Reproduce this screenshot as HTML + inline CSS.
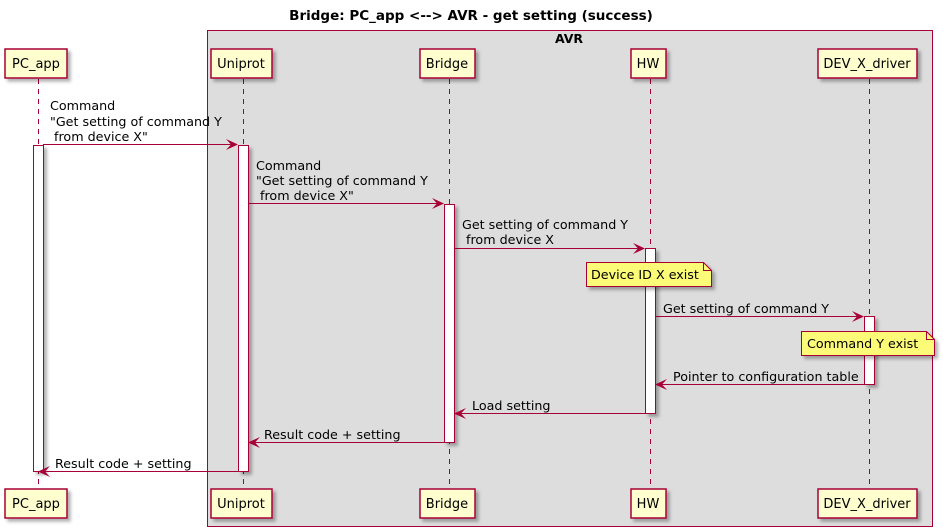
<!DOCTYPE html>
<html><head><meta charset="utf-8"><style>
html,body{margin:0;padding:0;background:#fff;}
svg{display:block;font-family:"DejaVu Sans","Liberation Sans",sans-serif;}
</style></head><body>
<svg width="943" height="528" viewBox="0 0 943 528" xmlns="http://www.w3.org/2000/svg">
<defs>
<filter id="sh" x="-20%" y="-20%" width="150%" height="150%"><feDropShadow dx="3" dy="3" stdDeviation="1.5" flood-color="#000" flood-opacity="0.3"/></filter>
</defs>
<text x="471" y="20" text-anchor="middle" font-size="13.5" font-weight="bold">Bridge: PC_app &lt;--&gt; AVR - get setting (success)</text>
<rect x="207.5" y="30.5" width="725" height="496" fill="#DDDDDD" stroke="#A80036" stroke-width="1"/>
<text x="569" y="43" text-anchor="middle" font-size="12.5" font-weight="bold">AVR</text>
<g stroke="#A80036" stroke-dasharray="5,5" stroke-width="1">
<line x1="38.5" y1="79" x2="38.5" y2="489"/>
<line x1="243.5" y1="79" x2="243.5" y2="489"/>
<line x1="449.5" y1="79" x2="449.5" y2="489"/>
<line x1="650.5" y1="79" x2="650.5" y2="489"/>
<line x1="869.5" y1="79" x2="869.5" y2="489"/>
</g>
<g fill="#FEFECE" stroke="#A80036" stroke-width="1.5" filter="url(#sh)">
<rect x="5" y="49" width="62" height="29"/><rect x="5" y="489" width="62" height="29"/>
<rect x="211" y="49" width="61" height="29"/><rect x="211" y="489" width="61" height="29"/>
<rect x="420" y="49" width="55" height="29"/><rect x="420" y="489" width="55" height="29"/>
<rect x="631" y="49" width="35" height="29"/><rect x="631" y="489" width="35" height="29"/>
<rect x="818" y="49" width="99" height="29"/><rect x="818" y="489" width="99" height="29"/>
</g>
<g font-size="13" text-anchor="middle">
<text x="36" y="68">PC_app</text><text x="36" y="508">PC_app</text>
<text x="241" y="68">Uniprot</text><text x="241" y="508">Uniprot</text>
<text x="447" y="68">Bridge</text><text x="447" y="508">Bridge</text>
<text x="648" y="68">HW</text><text x="648" y="508">HW</text>
<text x="867" y="68">DEV_X_driver</text><text x="867" y="508">DEV_X_driver</text>
</g>
<g fill="#fff" stroke="#A80036" stroke-width="1" filter="url(#sh)">
<rect x="33.5" y="145.5" width="10" height="326"/>
<rect x="238.5" y="145.5" width="10" height="326"/>
<rect x="444.5" y="204.5" width="10" height="238"/>
<rect x="645.5" y="248.5" width="10" height="165"/>
<rect x="864.5" y="316.5" width="10" height="68"/>
</g>
<g stroke="#A80036" stroke-width="1" fill="none">
<line x1="43" y1="144.5" x2="237" y2="144.5"/>
<line x1="248" y1="203.5" x2="443" y2="203.5"/>
<line x1="454" y1="248.5" x2="644" y2="248.5"/>
<line x1="655" y1="316.5" x2="863" y2="316.5"/>
<line x1="657" y1="384.5" x2="865" y2="384.5"/>
<line x1="457" y1="413.5" x2="645" y2="413.5"/>
<line x1="251" y1="442.5" x2="444" y2="442.5"/>
<line x1="40" y1="471.5" x2="238" y2="471.5"/>
</g>
<g fill="#A80036">
<polygon points="238,144.5 226,139 231,144.5 226,150"/>
<polygon points="444,203.5 432,198 437,203.5 432,209"/>
<polygon points="645,248.5 633,243 638,248.5 633,254"/>
<polygon points="864,316.5 852,311 857,316.5 852,322"/>
<polygon points="655,384.5 667,379 662,384.5 667,390"/>
<polygon points="454,413.5 466,408 461,413.5 466,419"/>
<polygon points="248,442.5 260,437 255,442.5 260,448"/>
<polygon points="38,471.5 50,466 45,471.5 50,477"/>
</g>
<g filter="url(#sh)" stroke="#A80036" stroke-width="1">
<path d="M586.5,262.5 H703.5 L711.5,270.5 V286.5 H586.5 Z" fill="#FBFB77"/>
<path d="M703.5,262.5 V270.5 H711.5" fill="none"/>
<path d="M801.5,331.5 H926.5 L934.5,339.5 V355.5 H801.5 Z" fill="#FBFB77"/>
<path d="M926.5,331.5 V339.5 H934.5" fill="none"/>
</g>
<g font-size="12.7" xml:space="preserve" style="white-space:pre">
<text x="591" y="279">Device ID X exist</text>
<text x="807" y="348">Command Y exist</text>
<text x="50" y="110">Command</text>
<text x="50" y="126">"Get setting of command Y</text>
<text x="50" y="141">&#160;from device X"</text>
<text x="256" y="170">Command</text>
<text x="256" y="185">"Get setting of command Y</text>
<text x="256" y="200">&#160;from device X"</text>
<text x="462" y="229">Get setting of command Y</text>
<text x="462" y="244">&#160;from device X</text>
<text x="663" y="313">Get setting of command Y</text>
<text x="673" y="381">Pointer to configuration table</text>
<text x="472" y="410">Load setting</text>
<text x="264" y="439">Result code + setting</text>
<text x="55" y="468">Result code + setting</text>
</g>
</svg>
</body></html>
